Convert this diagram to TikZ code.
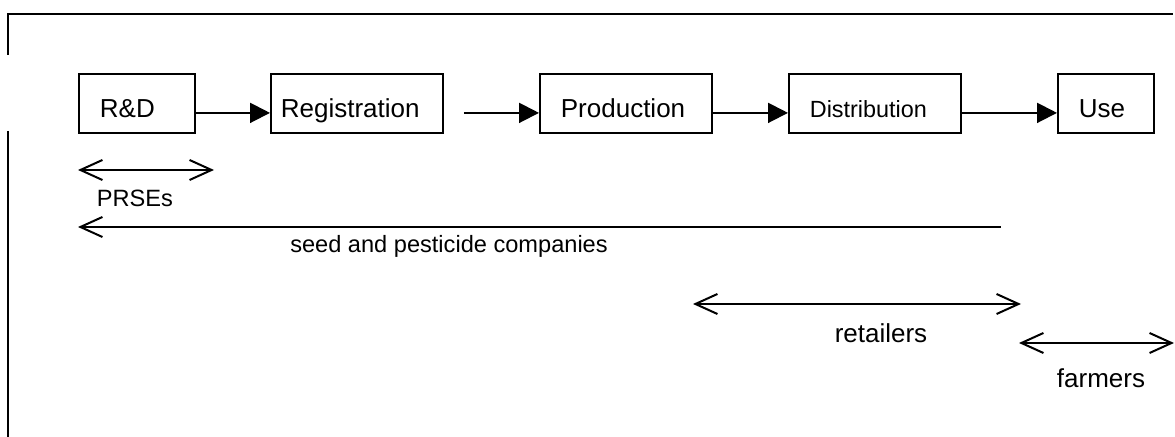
\documentclass[tikz,border=0pt]{standalone}
\usepackage{fontspec}
\setmainfont{Liberation Sans}
\usetikzlibrary{arrows.meta}

\tikzset{
  stage/.style={draw, line width=0.9pt, anchor=north west, align=left,
    font=\fontsize{13}{15}\selectfont, text height=14.5pt, text depth=0pt,
    inner ysep=7.5pt, inner xsep=10.5pt},
  flow/.style={line width=1pt, -{Triangle[length=10pt,width=10pt]}},
  span/.style={line width=1pt,
    {Straight Barb[length=11pt,width=10pt]}-{Straight Barb[length=11pt,width=10pt]}},
  lspan/.style={line width=1pt, {Straight Barb[length=11pt,width=10pt]}-},
  actor/.style={anchor=base, inner sep=0pt, font=\fontsize{13}{15}\selectfont},
  smallactor/.style={actor, font=\fontsize{11.8}{14}\selectfont}
}

\begin{document}
\begin{tikzpicture}[x=0.5pt, y=-0.5pt]
  \useasboundingbox (0,0) rectangle (1175,437);

  % Frame: top edge and broken left edge
  \draw[line width=1pt] (8,55) -- (8,14) -- (1173,14);
  \draw[line width=1pt] (8,131) -- (8,437);

  % Chain of stages
  \node[stage, text width=37pt] (rd) at (78,73) {R\&D};
  \node[stage, text width=76pt, inner xsep=5pt] (reg) at (270,73) {Registration};
  \node[stage, text width=65pt] (prod) at (539,73) {Production};
  \node[stage, text width=65pt, font=\fontsize{11.7}{14}\selectfont] (dist) at (788,73) {Distribution};
  \node[stage, text width=27pt] (use) at (1057,73) {Use};

  % Flow between stages
  \draw[flow] ([yshift=-4.75pt]rd.east) -- ([yshift=-4.75pt]reg.west);
  \draw[flow] ([xshift=10pt,yshift=-4.75pt]reg.east) -- ([yshift=-4.75pt]prod.west);
  \draw[flow] ([yshift=-4.75pt]prod.east) -- ([yshift=-4.75pt]dist.west);
  \draw[flow] ([yshift=-4.75pt]dist.east) -- ([yshift=-4.75pt]use.west);

  % PRSEs
  \coordinate (prseL) at (78,170);
  \coordinate (prseR) at (214,170);
  \draw[span] (prseL) -- (prseR);
  \node[smallactor] (prse) at (135,207) {PRSEs};

  % Seed and pesticide companies
  \coordinate (compL) at (78,227);
  \coordinate (compR) at (1001,227);
  \draw[lspan] (compL) -- (compR);
  \node[smallactor] (comp) at (449,253) {seed and pesticide companies};

  % Retailers
  \coordinate (retL) at (693,304);
  \coordinate (retR) at (1021,304);
  \draw[span] (retL) -- (retR);
  \node[actor] (ret) at (881,343) {retailers};

  % Farmers
  \coordinate (farmL) at (1019,343);
  \coordinate (farmR) at (1174,343);
  \draw[span] (farmL) -- (farmR);
  \node[actor] (farm) at (1101,388) {farmers};
\end{tikzpicture}
\end{document}
